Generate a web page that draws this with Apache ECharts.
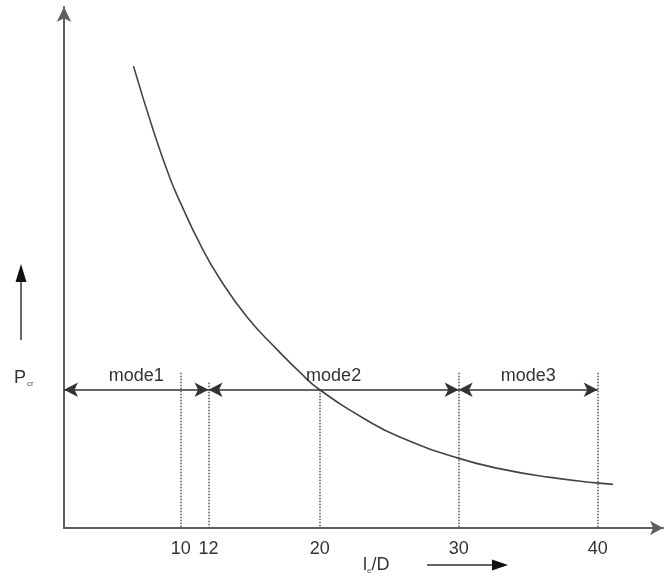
<!DOCTYPE html>
<html>
<head>
<meta charset="utf-8">
<script src="https://cdn.jsdelivr.net/npm/echarts@6/dist/echarts.min.js"></script>
<style>
  html, body { margin: 0; padding: 0; background: #fff; }
  #chart { width: 664px; height: 581px; }
</style>
</head>
<body>
<div id="chart"></div>
<script>
// slenderness ratio (x) vs critical load (y, arbitrary units)
const curveX = [6.6, 8.0, 9.2, 10.0, 11.4, 12.8, 14.8, 16.9, 18.6, 20.0, 23.4, 25.8, 29.9, 33.0, 36.6, 39.9, 41.1]
const curveY = [92.2, 79.6, 70.0, 64.8, 56.6, 49.8, 42.0, 35.7, 31.0, 27.6, 21.5, 18.1, 14.0, 11.8, 10.1, 9.0, 8.7]

const tickValues = [10, 12, 20, 30, 40]
const boundaryTops = [31, 29, 27.6, 31, 31]

const modeNames = ['mode1', 'mode2', 'mode3']
const modeStart = [1.6, 12, 30]
const modeEnd = [12, 30, 40]
const modeLevel = 27.6

const chart = echarts.init(document.getElementById('chart'))

const font = 'Liberation Sans, Arial, sans-serif'
const axisColor = '#5e5e5e'

const option = {
	animation: false,
	grid: { left: 64, right: 1, top: 7, bottom: 53 },
	xAxis: {
		type: 'value',
		min: 1.6,
		max: 44.7,
		splitLine: { show: false },
		axisTick: { show: false },
		axisLine: {
			lineStyle: { color: axisColor, width: 2 },
			symbol: ['none', 'arrow'],
			symbolSize: [11, 13]
		},
		axisLabel: {
			customValues: tickValues,
			color: '#333',
			fontSize: 18,
			fontFamily: font,
			margin: 12
		}
	},
	yAxis: {
		type: 'value',
		min: 0,
		max: 104,
		splitLine: { show: false },
		axisTick: { show: false },
		axisLabel: { show: false },
		axisLine: {
			lineStyle: { color: axisColor, width: 2 },
			symbol: ['none', 'arrow'],
			symbolSize: [11, 15]
		}
	},
	series: [
		{
			name: 'bounds',
			type: 'line',
			data: [],
			markLine: {
				silent: true,
				symbol: 'none',
				label: { show: false },
				lineStyle: { color: '#555', type: 'dotted', width: 1.5 },
				data: tickValues.map((x, i) => [
					{ coord: [x, boundaryTops[i]] },
					{ coord: [x, 0] }
				])
			}
		},
		{
			name: 'curve',
			type: 'line',
			smooth: true,
			showSymbol: false,
			lineStyle: { color: '#444', width: 1.6 },
			data: curveX.map((x, i) => [x, curveY[i]])
		},
		{
			name: 'modes',
			type: 'line',
			data: [],
			markLine: {
				silent: true,
				symbol: ['arrow', 'arrow'],
				symbolSize: [11, 14],
				lineStyle: { color: '#333', type: 'solid', width: 1.6 },
				label: {
					show: true,
					position: 'insideMiddleTop',
					distance: 5,
					color: '#333',
					fontSize: 18,
					fontFamily: font,
					formatter: p => p.name
				},
				data: modeNames.map((name, i) => [
					{ name: name, coord: [modeStart[i], modeLevel] },
					{ coord: [modeEnd[i], modeLevel] }
				])
			}
		}
	],
	graphic: [
		{
			type: 'text',
			left: 14,
			top: 369,
			style: {
				text: '{p|P}{s|cr}',
				rich: {
					p: { fontSize: 18, fontFamily: font, fill: '#333', lineHeight: 20 },
					s: { fontSize: 8, fontFamily: font, fill: '#555', padding: [12, 0, 0, 1] }
				}
			}
		},
		{ type: 'line', shape: { x1: 21, y1: 340, x2: 21, y2: 278 }, style: { stroke: '#666', lineWidth: 2 } },
		{ type: 'polygon', shape: { points: [[21, 264], [15.5, 282], [26.5, 282]] }, style: { fill: '#111' } },
		{
			type: 'text',
			left: 363,
			top: 556,
			style: {
				text: '{p|l}{s|e}{p|/D}',
				rich: {
					p: { fontSize: 18, fontFamily: font, fill: '#333', lineHeight: 20 },
					s: { fontSize: 8, fontFamily: font, fill: '#555', padding: [12, 0, 0, 0] }
				}
			}
		},
		{ type: 'line', shape: { x1: 427, y1: 565, x2: 496, y2: 565 }, style: { stroke: '#666', lineWidth: 2 } },
		{ type: 'polygon', shape: { points: [[508, 565], [492, 559.5], [492, 570.5]] }, style: { fill: '#111' } }
	]
}

chart.setOption(option)
</script>
</body>
</html>
